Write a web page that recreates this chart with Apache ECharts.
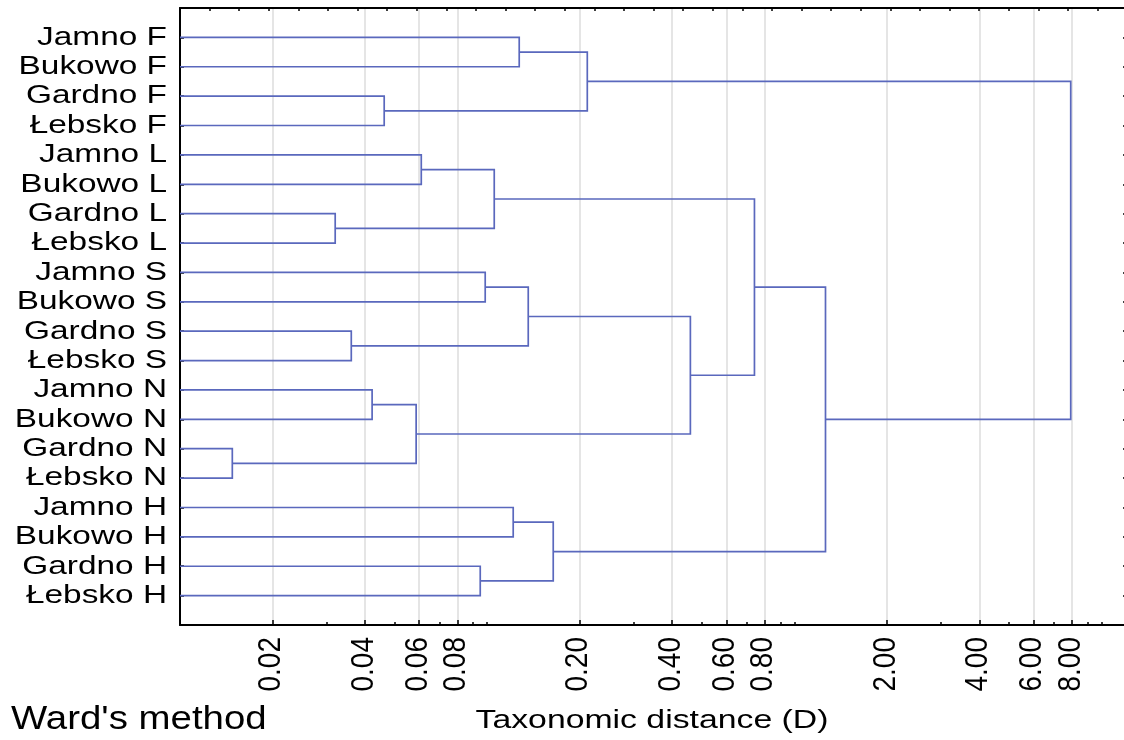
<!DOCTYPE html>
<html>
<head>
<meta charset="utf-8">
<script src="https://cdn.jsdelivr.net/npm/echarts@6/dist/echarts.min.js"></script>
<style>
html,body{margin:0;padding:0;background:#fff;}
#c{width:1124px;height:740px;}
</style>
</head>
<body>
<div id="c"></div>
<script>
// ---- data ----
const leaves = ['Jamno F','Bukowo F','Gardno F','Łebsko F','Jamno L','Bukowo L','Gardno L','Łebsko L',
  'Jamno S','Bukowo S','Gardno S','Łebsko S','Jamno N','Bukowo N','Gardno N','Łebsko N',
  'Jamno H','Bukowo H','Gardno H','Łebsko H'];
// linkage rows: [child A, child B, linkage distance]; ids < 20 are leaves, id 20+k is the k-th row
const linkage = [
  [14, 15, 0.0148],
  [6, 7, 0.0320],
  [10, 11, 0.0361],
  [12, 13, 0.0422],
  [2, 3, 0.0462],
  [23, 20, 0.0587],
  [4, 5, 0.0610],
  [18, 19, 0.0949],
  [8, 9, 0.0985],
  [26, 21, 0.1054],
  [16, 17, 0.1215],
  [0, 1, 0.1271],
  [28, 22, 0.1360],
  [30, 27, 0.164],
  [31, 24, 0.2117],
  [32, 25, 0.4584],
  [29, 35, 0.741],
  [36, 33, 1.262],
  [34, 37, 7.93]
];
const majorTicks = [0.02, 0.04, 0.06, 0.08, 0.2, 0.4, 0.6, 0.8, 2, 4, 6, 8];
const minorTicks = [0.03, 0.05, 0.07, 0.09, 0.1, 0.3, 0.5, 0.7, 0.9, 1, 3, 5, 7, 9, 10];
const axisMin = 0.01, axisMax = 12;
const xAxisName = 'Taxonomic distance (D)';
const methodLabel = "Ward's method";

// ---- build ----
const L = Math.log10;
const nodeX = leaves.map(() => L(axisMin));
const nodeY = leaves.map((_, i) => i);
const segments = linkage.map(([a, b, d]) => {
  const row = [nodeX[a], nodeY[a], nodeX[b], nodeY[b], L(d)];
  nodeX.push(L(d));
  nodeY.push((nodeY[a] + nodeY[b]) / 2);
  return row;
});

const FONT = '"Liberation Sans", Arial, sans-serif';
const LINE = '#5a68bd';

const chart = echarts.init(document.getElementById('c'), null, {renderer: 'canvas'});
chart.setOption({
  backgroundColor: '#fff',
  animation: false,
  grid: {left: 180, top: 8, width: 946, height: 617, containLabel: false, outerBoundsMode: 'none'},
  xAxis: [
    {
      type: 'value', position: 'bottom', min: L(axisMin), max: L(axisMax),
      axisLine: {show: true, onZero: false, lineStyle: {color: '#000', width: 2}},
      axisTick: {show: true, inside: true, length: 5, customValues: majorTicks.map(L), lineStyle: {color: '#000', width: 1.5}},
      axisLabel: {show: false, customValues: majorTicks.map(L)},
      splitLine: {show: true, lineStyle: {color: '#dddddd', width: 1.5}}
    },
    {
      type: 'value', position: 'bottom', min: L(axisMin), max: L(axisMax),
      axisLine: {show: false, onZero: false},
      axisTick: {show: true, inside: true, length: 3, customValues: minorTicks.map(L), lineStyle: {color: '#000', width: 1.5}},
      axisLabel: {show: false},
      splitLine: {show: false}
    },
    {
      type: 'value', position: 'top', min: 0, max: 31.96, interval: 1,
      axisLine: {show: true, onZero: false, lineStyle: {color: '#000', width: 2}},
      axisTick: {show: true, inside: true, length: 3, lineStyle: {color: '#000', width: 1.5}},
      axisLabel: {show: false},
      splitLine: {show: false}
    }
  ],
  yAxis: [
    {
      type: 'value', position: 'left', inverse: true, min: -1, max: 20, interval: 1,
      axisLine: {show: true, onZero: false, lineStyle: {color: '#000', width: 2}},
      axisTick: {show: true, inside: true, length: 4, lineStyle: {color: '#000', width: 1.5}},
      axisLabel: {show: false},
      splitLine: {show: false}
    },
    {
      type: 'value', position: 'right', inverse: true, min: -1, max: 20, interval: 1,
      axisLine: {show: true, onZero: false, lineStyle: {color: '#000', width: 2}},
      axisTick: {show: true, inside: true, length: 3, lineStyle: {color: '#000', width: 1.5}},
      axisLabel: {show: false},
      splitLine: {show: false}
    }
  ],
  graphic: [
    {type: 'text', x: 11, y: 720, scaleX: 1.175, silent: true,
     style: {text: methodLabel, fontSize: 32.7, fontFamily: FONT, fill: '#000', align: 'left', verticalAlign: 'middle'}},
    {type: 'text', x: 652, y: 720.5, scaleX: 1.29, silent: true,
     style: {text: xAxisName, fontSize: 26.2, fontFamily: FONT, fill: '#000', align: 'center', verticalAlign: 'middle'}}
  ],
  series: [
    {
      type: 'custom', name: 'dendrogram', xAxisIndex: 0, yAxisIndex: 0, silent: true, clip: false,
      encode: {x: [0, 2, 4], y: [1, 3]},
      data: segments,
      renderItem: function (params, api) {
        const p1 = api.coord([api.value(0), api.value(1)]);
        const p2 = api.coord([api.value(4), api.value(1)]);
        const p3 = api.coord([api.value(4), api.value(3)]);
        const p4 = api.coord([api.value(2), api.value(3)]);
        return {type: 'polyline', shape: {points: [p1, p2, p3, p4]},
                style: {stroke: LINE, lineWidth: 1.7, fill: null}};
      }
    },
    {
      type: 'custom', name: 'leafLabels', xAxisIndex: 0, yAxisIndex: 0, silent: true, clip: false,
      encode: {x: 0, y: 1},
      data: leaves.map((n, i) => [L(axisMin), i]),
      renderItem: function (params, api) {
        const p = api.coord([api.value(0), api.value(1)]);
        return {type: 'text', x: p[0] - 13, y: p[1], scaleX: 1.26,
                style: {text: leaves[params.dataIndex], fontSize: 26.5, fontFamily: FONT, fill: '#000',
                        align: 'right', verticalAlign: 'middle'}};
      }
    },
    {
      type: 'custom', name: 'tickLabels', xAxisIndex: 0, yAxisIndex: 0, silent: true, clip: false,
      encode: {x: 0, y: 1},
      data: majorTicks.map(v => [L(v), 20]),
      renderItem: function (params, api) {
        const p = api.coord([api.value(0), api.value(1)]);
        return {type: 'text', x: p[0] - 1, y: p[1] + 12, rotation: Math.PI / 2, scaleY: 1.12,
                style: {text: majorTicks[params.dataIndex].toFixed(2), fontSize: 28, fontFamily: FONT, fill: '#000',
                        align: 'right', verticalAlign: 'middle'}};
      }
    }
  ]
});
</script>
</body>
</html>
